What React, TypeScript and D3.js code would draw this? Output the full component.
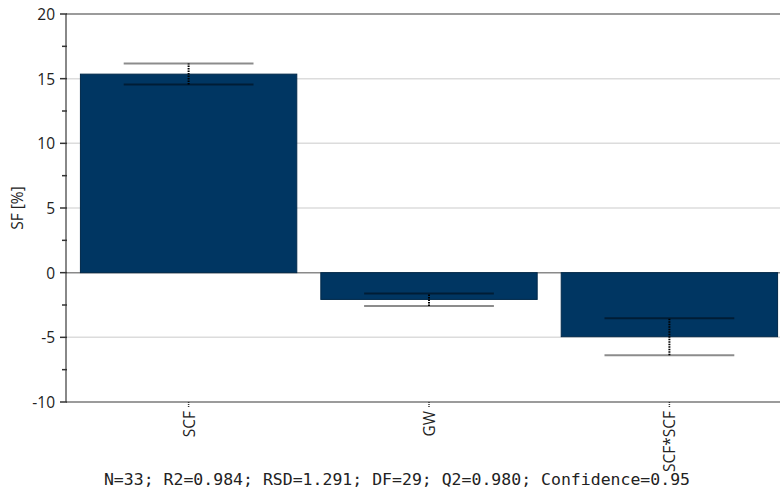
import React from "react";
import * as d3 from "d3";

const categories = ["SCF", "GW", "SCF*SCF"];
const effects = [15.35, -2.07, -4.95];
const errLow = [14.55, -2.57, -6.38];
const errHigh = [16.18, -1.61, -3.52];
const yMajorTicks = [-10, -5, 0, 5, 10, 15, 20];
const yMinorTicks = [-7.5, -2.5, 2.5, 7.5, 12.5, 17.5];
const yLabel = "SF [%]";
const footer = "N=33; R2=0.984; RSD=1.291; DF=29; Q2=0.980; Confidence=0.95";

const W = 780;
const H = 490;
const left = 66;
const top = 14;
const bottom = 402;

export default function App() {
  const y = d3.scaleLinear().domain([-10, 20]).range([bottom, top]);
  const x = d3
    .scaleBand<string>()
    .domain(categories)
    .range([left, 792])
    .paddingInner(0.1)
    .paddingOuter(0.06);
  const bw = x.bandwidth();
  const capW = bw * 0.6;
  const font = "'Open Sans', sans-serif";

  return (
    <svg
      width={W}
      height={H}
      style={{ position: "absolute", left: 0, top: 0, background: "#fff" }}
    >
      {/* grid lines */}
      {yMajorTicks
        .filter((t) => t !== 0 && t !== 20 && t !== -10)
        .map((t) => (
          <line key={"g" + t} x1={left} x2={W} y1={y(t)} y2={y(t)} stroke="#dcdcdc" strokeWidth={1.5} />
        ))}
      {/* top & bottom frame */}
      <line x1={left} x2={W} y1={y(20)} y2={y(20)} stroke="#7a7a7a" strokeWidth={1.5} />
      <line x1={left} x2={W} y1={y(-10)} y2={y(-10)} stroke="#7a7a7a" strokeWidth={1.5} />
      {/* zero line */}
      <line x1={left} x2={W} y1={y(0)} y2={y(0)} stroke="#8a8a8a" strokeWidth={1.5} />

      {/* bars */}
      {categories.map((c, i) => {
        const v = effects[i];
        const y0 = y(Math.max(0, v));
        const y1 = y(Math.min(0, v));
        return (
          <rect
            key={"b" + c}
            x={x(c)!}
            y={y0}
            width={bw}
            height={y1 - y0}
            fill="#003662"
            stroke="#00294a"
            strokeWidth={1}
          />
        );
      })}

      {/* error bars */}
      {categories.map((c, i) => {
        const cx = x(c)! + bw / 2;
        return (
          <g key={"e" + c}>
            <line
              x1={cx}
              x2={cx}
              y1={y(errLow[i])}
              y2={y(errHigh[i])}
              stroke="#000"
              strokeWidth={2}
              strokeDasharray="1.5 1"
            />
            <line
              x1={cx - capW / 2}
              x2={cx + capW / 2}
              y1={y(errHigh[i])}
              y2={y(errHigh[i])}
              stroke="#000"
              strokeOpacity={0.45}
              strokeWidth={2}
            />
            <line
              x1={cx - capW / 2}
              x2={cx + capW / 2}
              y1={y(errLow[i])}
              y2={y(errLow[i])}
              stroke="#000"
              strokeOpacity={0.45}
              strokeWidth={2}
            />
          </g>
        );
      })}

      {/* y axis */}
      <line x1={left} x2={left} y1={top} y2={bottom} stroke="#888" strokeWidth={2} />
      {yMajorTicks.map((t) => (
        <g key={"yt" + t}>
          <line x1={left - 6} x2={left + 1} y1={y(t)} y2={y(t)} stroke="#333" strokeWidth={1.5} />
          <text
            x={55}
            y={y(t)}
            textAnchor="end"
            dominantBaseline="central"
            fontFamily={font}
            fontSize={15.5}
            fill="#222"
          >
            {t}
          </text>
        </g>
      ))}
      {yMinorTicks.map((t) => (
        <line key={"ym" + t} x1={left - 4} x2={left + 1} y1={y(t)} y2={y(t)} stroke="#333" strokeWidth={1.5} />
      ))}
      <text
        transform={`translate(17,${(top + bottom) / 2}) rotate(-90)`}
        textAnchor="middle"
        dominantBaseline="central"
        fontFamily={font}
        fontSize={15.5}
        fill="#222"
      >
        {yLabel}
      </text>

      {/* x axis ticks and labels */}
      {categories.map((c) => {
        const cx = x(c)! + bw / 2;
        return (
          <g key={"xt" + c}>
            <line x1={cx} x2={cx} y1={bottom} y2={bottom + 6} stroke="#333" strokeWidth={1.5} strokeDasharray="1 1" />
            <text
              transform={`translate(${cx},${bottom + 9}) rotate(-90)`}
              textAnchor="end"
              dominantBaseline="central"
              fontFamily={font}
              fontSize={15.5}
              fill="#222"
            >
              {c}
            </text>
          </g>
        );
      })}

      {/* footer */}
      <text
        x={397}
        y={485}
        textAnchor="middle"
        fontFamily="'DejaVu Sans Mono', monospace"
        fontSize={16.5}
        fill="#222"
      >
        {footer}
      </text>
    </svg>
  );
}
